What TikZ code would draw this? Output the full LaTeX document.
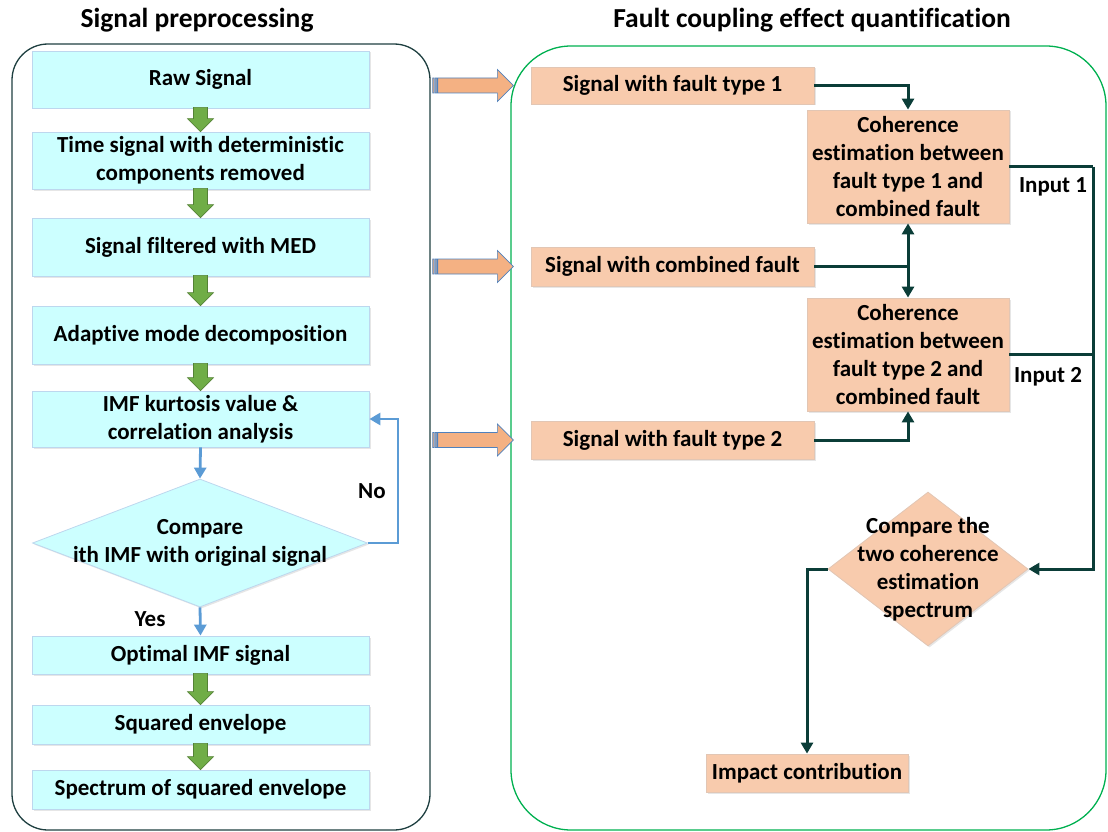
\documentclass[tikz,border=0pt]{standalone}
\usepackage{fontspec}
\setmainfont{Carlito}[Ligatures={NoCommon}]
\usetikzlibrary{shapes.geometric,calc,arrows.meta,shadows}
\definecolor{cyanfill}{HTML}{CCFFFF}
\definecolor{cyanedge}{HTML}{BDD7EE}
\definecolor{orfill}{HTML}{F8CBAD}
\definecolor{oredge}{HTML}{E2C6B4}
\definecolor{orarrow}{HTML}{F4B183}
\definecolor{orarrowedge}{HTML}{4F81BD}
\definecolor{garfill}{HTML}{70AD47}
\definecolor{garedge}{HTML}{548235}
\definecolor{bluearr}{HTML}{5B9BD5}
\definecolor{darkcon}{HTML}{0B3D38}
\definecolor{leftframe}{HTML}{1E3F40}
\definecolor{rightframe}{HTML}{00B050}
\tikzset{
  cbox/.style={draw=cyanedge, fill=cyanfill, line width=0.8pt, inner sep=0pt, align=center,
    minimum width=337, drop shadow={shadow xshift=1.5pt, shadow yshift=-1.5pt, opacity=0.2}},
  obox/.style={draw=oredge, fill=orfill, line width=0.8pt, inner sep=0pt, align=center,
    drop shadow={shadow xshift=1.5pt, shadow yshift=-1.5pt, opacity=0.2}},
  garr/.style={fill=garfill, draw=garedge, line width=0.6pt},
  oarr/.style={fill=orarrow, draw=orarrowedge, line width=0.7pt},
  bcon/.style={draw=bluearr, line width=2.8pt, -{Triangle[length=11pt,width=12pt]}},
  dcon/.style={draw=darkcon, line width=3pt},
  dtip/.style={-{Triangle[length=11pt,width=12pt]}},
  lbl/.style={inner sep=0pt},
  hdr/.style={font=\fontsize{27.5}{32}\selectfont\bfseries, inner sep=0pt}
}
\newcommand\garrow[2]{%
  \draw[garr] let \p1=(#1.south), \p2=(#2.north) in
    (\x1-7pt,\y1+1pt) -- (\x1+7pt,\y1+1pt) -- (\x1+7pt,\y2+13pt) -- (\x1+13pt,\y2+13pt)
    -- (\x1,\y2) -- (\x1-13pt,\y2+13pt) -- (\x1-7pt,\y2+13pt) -- cycle;}
\newcommand\oarrow[1]{%
  \draw[oarr] let \p1=($(leftc.east |- #1.west)+(2,0)$), \p2=($(rightc.west |- #1.west)+(3,0)$) in
    (\x1+5pt,\y1+7.5pt) -- (\x2-16pt,\y1+7.5pt) -- (\x2-16pt,\y1+16pt) -- (\x2,\y1)
    -- (\x2-16pt,\y1-16pt) -- (\x2-16pt,\y1-7.5pt) -- (\x1+5pt,\y1-7.5pt) -- cycle
    (\x1,\y1-7.5pt) rectangle (\x1+1.5pt,\y1+7.5pt)
    (\x1+2.7pt,\y1-7.5pt) rectangle (\x1+4pt,\y1+7.5pt);}
\begin{document}
\begin{tikzpicture}[x=1pt,y=-1pt, font=\fontsize{23}{28}\selectfont\bfseries]
\useasboundingbox (0,0) rectangle (1108,832);
% containers
\node[draw=leftframe, line width=1.3pt, rounded corners=36pt, minimum width=418, minimum height=786, inner sep=0pt] (leftc) at (221,437) {};
\node[draw=rightframe, line width=1.3pt, rounded corners=60pt, minimum width=595, minimum height=784, inner sep=0pt] (rightc) at (808.5,438) {};
% headers
\node[hdr] (h1) at (197,20) {Signal preprocessing};
\node[hdr] (h2) at (812,20) {Fault coupling effect quantification};
% left boxes
\node[cbox, minimum height=57] (raw) at (200.5,79.5) {Raw Signal};
\node[cbox, minimum height=57] (time) at (200.5,160.5) {Time signal with deterministic\\components removed};
\node[cbox, minimum height=58] (med) at (200.5,247) {Signal filtered with MED};
\node[cbox, minimum height=58] (amd) at (200.5,335) {Adaptive mode decomposition};
\node[cbox, minimum height=56] (imf) at (200.5,419) {IMF kurtosis value \&\\correlation analysis};
\node[diamond, draw=cyanedge, fill=cyanfill, line width=0.8pt, minimum width=335, minimum height=128, inner sep=0pt,
  drop shadow={shadow xshift=1.5pt, shadow yshift=-1.5pt, opacity=0.2}] (dia1) at (200,543) {};
\node[lbl, align=center] (dia1t) at (200,543) {Compare\\ith IMF with original signal};
\node[cbox, minimum height=38] (opt) at (200.5,655) {Optimal IMF signal};
\node[cbox, minimum height=39] (sq) at (200.5,724.5) {Squared envelope};
\node[cbox, minimum height=39] (spec) at (200.5,789.5) {Spectrum of squared envelope};
% green arrows
\garrow{raw}{time}
\garrow{time}{med}
\garrow{med}{amd}
\garrow{amd}{imf}
\garrow{opt}{sq}
\garrow{sq}{spec}
% blue arrows
\draw[bcon] (imf.south) -- (dia1.north);
\draw[bcon] (dia1.south) -- (opt.north);
\coordinate (loop) at (398,543);
\draw[bcon] (dia1.east) -- (loop) |- (imf.east);
\node[lbl] (no) at (372,491) {No};
\node[lbl] (yes) at (150,619) {Yes};
% right boxes
\node[obox, minimum width=283, minimum height=37] (f1) at (672.5,85.5) {Signal with fault type 1};
\node[obox, minimum width=283, minimum height=39] (comb) at (672.5,266.5) {Signal with combined fault};
\node[obox, minimum width=283, minimum height=38] (f2) at (672.5,440) {Signal with fault type 2};
\node[obox, minimum width=202, minimum height=113] (coh1) at (908,166.5) {Coherence\\estimation between\\fault type 1 and\\combined fault};
\node[obox, minimum width=202, minimum height=113] (coh2) at (908,354.5) {Coherence\\estimation between\\fault type 2 and\\combined fault};
\node[diamond, draw=oredge, fill=orfill, line width=0.8pt, minimum width=200, minimum height=154, inner sep=0pt,
  drop shadow={shadow xshift=1.5pt, shadow yshift=-1.5pt, opacity=0.2}] (dia2) at (928,569) {};
\node[lbl, align=center] (dia2t) at (928,569) {Compare the\\two coherence\\estimation\\spectrum};
\node[obox, minimum width=202, minimum height=38] (imp) at (807,773) {Impact contribution};
% orange arrows
\oarrow{f1}
\oarrow{comb}
\oarrow{f2}
% dark connectors
\draw[dcon, dtip] (f1.east) -| (coh1.north);
\coordinate (cj) at (comb.east -| coh1.south);
\draw[dcon] (comb.east) -- (cj);
\draw[dcon, dtip] (cj) -- (coh1.south);
\draw[dcon, dtip] (cj) -- (coh2.north);
\draw[dcon, dtip] (f2.east) -| (coh2.south);
\coordinate (bus) at (1093,569);
\draw[dcon] (coh1.east) -- (coh1.east -| bus);
\draw[dcon] (coh2.east) -- (coh2.east -| bus);
\draw[dcon, dtip] (coh1.east -| bus) -- (bus) -- (dia2.east);
\draw[dcon, dtip] (dia2.west) -| (imp.north);
\node[lbl] (in1) at (1053,187) {Input 1};
\node[lbl] (in2) at (1048,377) {Input 2};
\end{tikzpicture}
\end{document}
